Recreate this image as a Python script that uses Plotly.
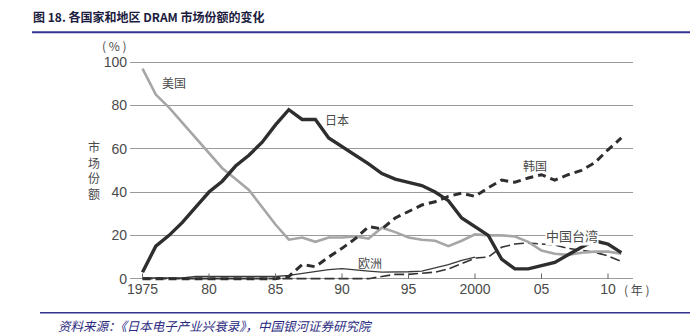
import plotly.graph_objects as go

# DRAM market share by country / region, 1975-2011 (%)
years = list(range(1975, 2012))

usa = [97, 85, 79, 72, 65, 58, 51, 46, 41, 33, 25, 18, 19, 17, 19, 19, 19.5, 18.5,
       23.5, 21.5, 19, 18, 17.5, 15, 17.5, 20.5, 20, 20, 19.5, 17, 13, 11.5, 11, 12,
       12.5, 12.5, 11.5]
japan = [3, 15, 20, 26, 33, 40, 45, 52, 57, 63, 71, 78, 73.5, 73.5, 65, 61, 57, 53,
         48.5, 46, 44.5, 43, 40, 36, 28, 24, 20, 9, 4.5, 4.5, 6, 7.5, 11, 14.5, 17.5,
         16, 12]
korea = [0, 0, 0, 0, 0, 0, 0, 0, 0, 0, 0, 1, 6.5, 5.5, 10, 14, 18.5, 24, 23, 28, 31,
         34, 35.5, 38, 39.5, 38, 42, 45.5, 44.5, 46.5, 48, 45.5, 48, 50, 53.5, 59.5, 65]
europe = [0.3, 0.3, 0.3, 0.3, 1, 1, 1, 1, 1, 1, 1, 1.5, 2.5, 3.5, 4.2, 4.6, 4.2, 3.5,
          3, 3, 3.2, 3.5, 5, 6.5, 8.5, 10, None, None, None, None, None, None, None,
          None, None, None, None]
taiwan = [0, 0, 0, 0, 0, 0, 0, 0, 0, 0, 0, 0, 0, 0, 0, 0, 0, 0, 1, 2, 2, 2.5, 3, 4.5,
          7, 9.5, 10, 14.5, 16, 16.5, 16, 15.5, 14, 13, 12.2, 10.5, 8]

x_tickvals = [1975, 1980, 1985, 1990, 1995, 2000, 2005, 2010]
x_ticktext = ["1975", "80", "85", "90", "95", "2000", "05", "10"]
y_tickvals = [0, 20, 40, 60, 80, 100]

# plot-area edges in pixels
W, H = 700, 336
L, R, T, B = 130, 633, 60.9, 283.3


def px(x):
    return (x - L) / (R - L)


def py(y):
    return (B - y) / (B - T)


fig = go.Figure()

fig.add_trace(go.Scatter(x=years, y=europe, mode="lines", name="欧洲",
                         line=dict(color="#3a3a3a", width=1.3)))
fig.add_trace(go.Scatter(x=years, y=taiwan, mode="lines", name="中国台湾",
                         line=dict(color="#333333", width=1.6, dash="10px,4px")))
fig.add_trace(go.Scatter(x=years, y=usa, mode="lines", name="美国",
                         line=dict(color="#a6a6a6", width=2.6)))
fig.add_trace(go.Scatter(x=years, y=korea, mode="lines", name="韩国",
                         line=dict(color="#2e2e2e", width=3, dash="8px,5px")))
fig.add_trace(go.Scatter(x=years, y=japan, mode="lines", name="日本",
                         line=dict(color="#2e2e2e", width=3.4)))

axis_font = dict(family="Liberation Sans, Arial, sans-serif", size=14, color="#4a4a4a")
cjk = "Noto Sans CJK SC"

fig.update_layout(
    width=W, height=H,
    margin=dict(l=L, r=W - R, t=T, b=H - B),
    paper_bgcolor="white", plot_bgcolor="white",
    showlegend=False,
    xaxis=dict(range=[1974.06, 2011.88], tickvals=x_tickvals, ticktext=x_ticktext,
               showgrid=False, zeroline=False, showline=False, ticks="",
               tickfont=axis_font, ticklabelstandoff=-4),
    yaxis=dict(range=[-2, 100.5], tickvals=y_tickvals, showgrid=True,
               gridcolor="#9a9a9a", gridwidth=1, zeroline=False, showline=False,
               ticks="", tickfont=axis_font, ticklabelstandoff=2),
)

# small upward tick marks on the zero line
for v in x_tickvals:
    fig.add_shape(type="line", xref="x", yref="y", x0=v, x1=v, y0=0, y1=2.4,
                  line=dict(color="#666666", width=1))

# header and footer rules
fig.add_shape(type="line", xref="paper", yref="paper", x0=px(32), x1=px(690),
              y0=py(32), y1=py(32), line=dict(color="#33338f", width=2))
fig.add_shape(type="line", xref="paper", yref="paper", x0=px(40), x1=px(690),
              y0=py(313), y1=py(313), line=dict(color="#33338f", width=1.5))

annotations = [
    dict(text="<b>图 18. 各国家和地区 DRAM 市场份额的变化</b>", x=px(32), y=py(16),
         xanchor="left", font=dict(family=cjk, size=12, color="#1c1c40")),
    dict(text="<i>资料来源：《日本电子产业兴衰录》，中国银河证券研究院</i>", x=px(57), y=py(326),
         xanchor="left", font=dict(family=cjk, size=12.5, color="#2a2a80")),
    dict(text="( % )", x=px(114), y=py(45), font=dict(family=cjk, size=12, color="#4a4a4a")),
    dict(text="市<br>场<br>份<br>额", x=px(94), y=py(170),
         font=dict(family=cjk, size=12, color="#4a4a4a")),
    dict(text="( 年 )", x=px(637), y=py(290), font=dict(family=cjk, size=12, color="#4a4a4a")),
    dict(text="美国", x=px(174), y=py(82), font=dict(family=cjk, size=12, color="#4a4a4a")),
    dict(text="日本", x=px(337), y=py(120), font=dict(family=cjk, size=12, color="#4a4a4a")),
    dict(text="韩国", x=px(535), y=py(166), font=dict(family=cjk, size=12, color="#4a4a4a")),
    dict(text="中国台湾", x=px(572), y=py(236), bgcolor="white",
         font=dict(family=cjk, size=13, color="#4a4a4a")),
    dict(text="欧洲", x=px(370), y=py(263), font=dict(family=cjk, size=12, color="#4a4a4a")),
]
for a in annotations:
    a.setdefault("xanchor", "center")
    fig.add_annotation(xref="paper", yref="paper", showarrow=False, yanchor="middle",
                       borderpad=0, **a)

fig.write_html("out.html")
